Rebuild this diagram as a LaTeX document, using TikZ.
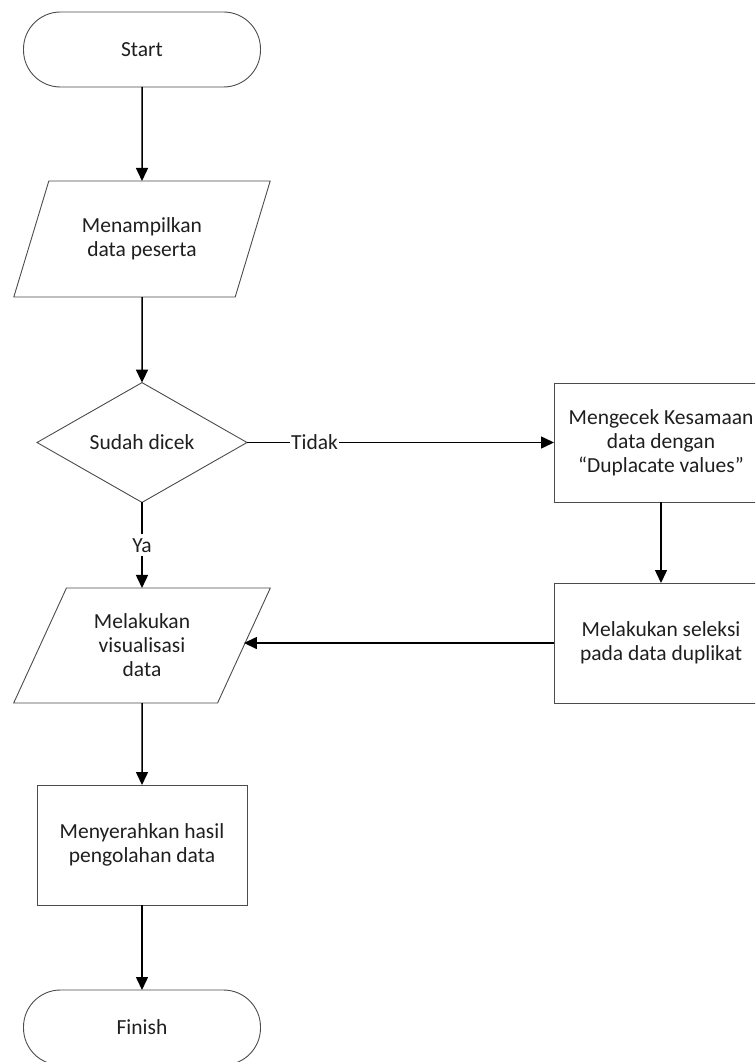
\documentclass[tikz,border=0pt]{standalone}
\usepackage{fontspec}
\setmainfont{Carlito}
\usetikzlibrary{shapes.geometric,arrows.meta}
\begin{document}
\begin{tikzpicture}[x=1pt,y=-1pt,
  font=\fontsize{21.5}{24}\selectfont,
  shapeline/.style={draw=black!70, line width=0.9pt, text=black!88, inner sep=0pt, outer sep=0pt, align=center},
  term/.style={shapeline, rectangle, rounded corners=37pt, minimum width=237pt, minimum height=75pt},
  io/.style={shapeline, trapezium, trapezium left angle=62, trapezium right angle=118,
    trapezium stretches=true, minimum width=257pt, minimum height=116pt},
  dec/.style={shapeline, diamond, minimum width=210pt, minimum height=119pt},
  proc/.style={shapeline, rectangle, minimum width=210pt, minimum height=120pt},
  flow/.style={line width=1.5pt, black, -{Triangle[width=12pt,length=13pt]}},
  lbl/.style={fill=white, inner xsep=1pt, inner ysep=4pt, text=black!88}]
\useasboundingbox (0,0) rectangle (755,1062);
\clip (0,0) rectangle (755,1062);
\fill[white] (0,0) rectangle (755,1062);

\node[term] (start) at (142,49.5) {Start};
\node[io] (p1) at (142,239) {Menampilkan\\data peserta};
\node[dec] (dec) at (142,442.5) {Sudah dicek};
\node[proc, minimum width=214pt, minimum height=119pt] (b1) at (661,442.5)
  {Mengecek Kesamaan\\data dengan\\“Duplacate values”};
\node[proc, minimum width=214pt, minimum height=120pt] (b2) at (661,643)
  {Melakukan seleksi\\pada data duplikat};
\node[io, minimum height=115pt] (p2) at (142,645.5) {Melakukan\\visualisasi\\data};
\node[proc] (b3) at (142,845) {Menyerahkan hasil\\pengolahan data};
\node[term] (finish) at (142,1027.5) {Finish};

\draw[flow] (start) -- (p1);
\draw[flow] (p1) -- (dec);
\draw[flow] (dec) -- node[lbl]{Ya} (p2);
\draw[flow] (dec.east) -- node[lbl, pos=0.22]{Tidak} (b1.west);
\draw[flow] (b1) -- (b2);
\draw[flow] (b2.west) -- (b2.west -| p2.east);
\draw[flow] (p2) -- (b3);
\draw[flow] (b3) -- (finish);
\end{tikzpicture}
\end{document}
